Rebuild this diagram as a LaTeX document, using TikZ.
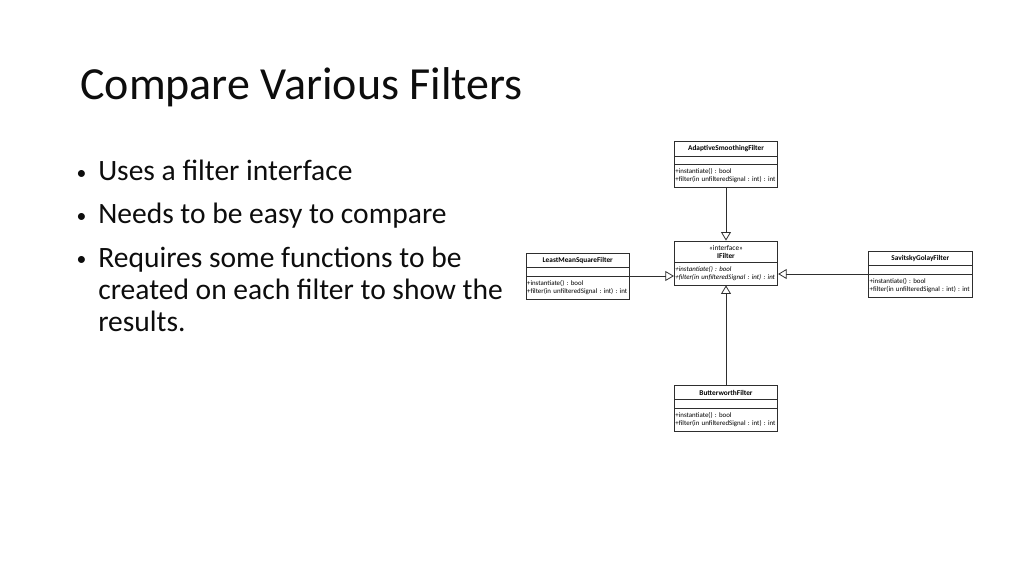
\documentclass[tikz,border=0pt]{standalone}
\usepackage{fontspec}
\setmainfont{Carlito}
\usetikzlibrary{
  shapes.multipart,
  arrows.meta,
  positioning
}
\definecolor{textmain}{HTML}{0D0D0D}
\definecolor{umlline}{HTML}{2E2E2E}
\newcommand{\umlfont}{\fontsize{4.9}{5.5}\selectfont\frenchspacing}
\newcommand{\umlname}[1]{\makebox[72pt]{\fontsize{5.2}{5.5}\selectfont#1}}
\newcommand{\bul}{\llap{\raisebox{1pt}{\fontsize{14}{14}\selectfont\textbullet}\hspace{8.5pt}}}
\tikzset{
  slidetitle/.style={
    text=textmain,
    font=\fontsize{32.7}{36}\selectfont,
    anchor=base west,
    inner sep=0pt,
  },
  bulletitem/.style={
    text=textmain,
    font=\fontsize{21}{22.7}\selectfont,
    anchor=base west,
    align=left,
    inner sep=0pt,
  },
  umlclass/.style={
    draw=umlline,
    fill=white,
    line width=0.55pt,
    rectangle split,
    rectangle split parts=#1,
    rectangle split empty part height=4.4pt,
    rectangle split empty part depth=0pt,
    text width=72pt,
    align=left,
    inner xsep=0.8pt,
    inner ysep=2.8pt,
    font=\umlfont,
  },
  umlclass/.default=3,
  realize/.style={
    -{Triangle[open, length=6pt, width=7pt]},
    line width=0.55pt,
    draw=umlline,
  },
}

\begin{document}
\begin{tikzpicture}[x=0.025cm, y=-0.025cm]
\useasboundingbox[fill=white] (0,0) rectangle (1024,576);

% === Title and bullets ===

\node[slidetitle] (title) at (80,100) {Compare Various Filters};

\node[bulletitem] (item1) at (98,181) {\bul Uses a filter interface};
\node[bulletitem] (item2) at (98,224) {\bul Needs to be easy to compare};
% base anchor sits on the last line
\node[bulletitem] (item3) at (98,331)
  {\bul Requires some functions to be\\
   created on each filter to show the\\
   results.};

% === Interface in the middle ===

\node[umlclass=2] (iface) at (726,263)
  {\umlname{\guillemotleft interface\guillemotright}\\\umlname{\textbf{IFilter}}
   \nodepart{second}\itshape +instantiate() : bool\\+filter(in unfilteredSignal : int) : int};

% === Implementing classes ===

\node[umlclass, above=1.325cm of iface] (adaptive)
  {\umlname{\textbf{AdaptiveSmoothingFilter}}
   \nodepart{second}
   \nodepart{third}+instantiate() : bool\\+filter(in unfilteredSignal : int) : int};

\node[umlclass, left=1.1cm of iface, yshift=-0.325cm] (lms)
  {\umlname{\textbf{LeastMeanSquareFilter}}
   \nodepart{second}
   \nodepart{third}+instantiate() : bool\\+filter(in unfilteredSignal : int) : int};

\node[umlclass, right=2.25cm of iface, yshift=-0.275cm] (savitsky)
  {\umlname{\textbf{SavitskyGolayFilter}}
   \nodepart{second}
   \nodepart{third}+instantiate() : bool\\+filter(in unfilteredSignal : int) : int};

\node[umlclass, below=2.5cm of iface] (butter)
  {\umlname{\textbf{ButterworthFilter}}
   \nodepart{second}
   \nodepart{third}+instantiate() : bool\\+filter(in unfilteredSignal : int) : int};

% realization arrows
\draw[realize] (adaptive.south) -- (iface.north);
\draw[realize] (butter.north) -- (iface.south);
\draw[realize] (lms.east) -- (lms.east -| iface.west);
\draw[realize] (savitsky.west) -- (savitsky.west -| iface.east);

\end{tikzpicture}
\end{document}
